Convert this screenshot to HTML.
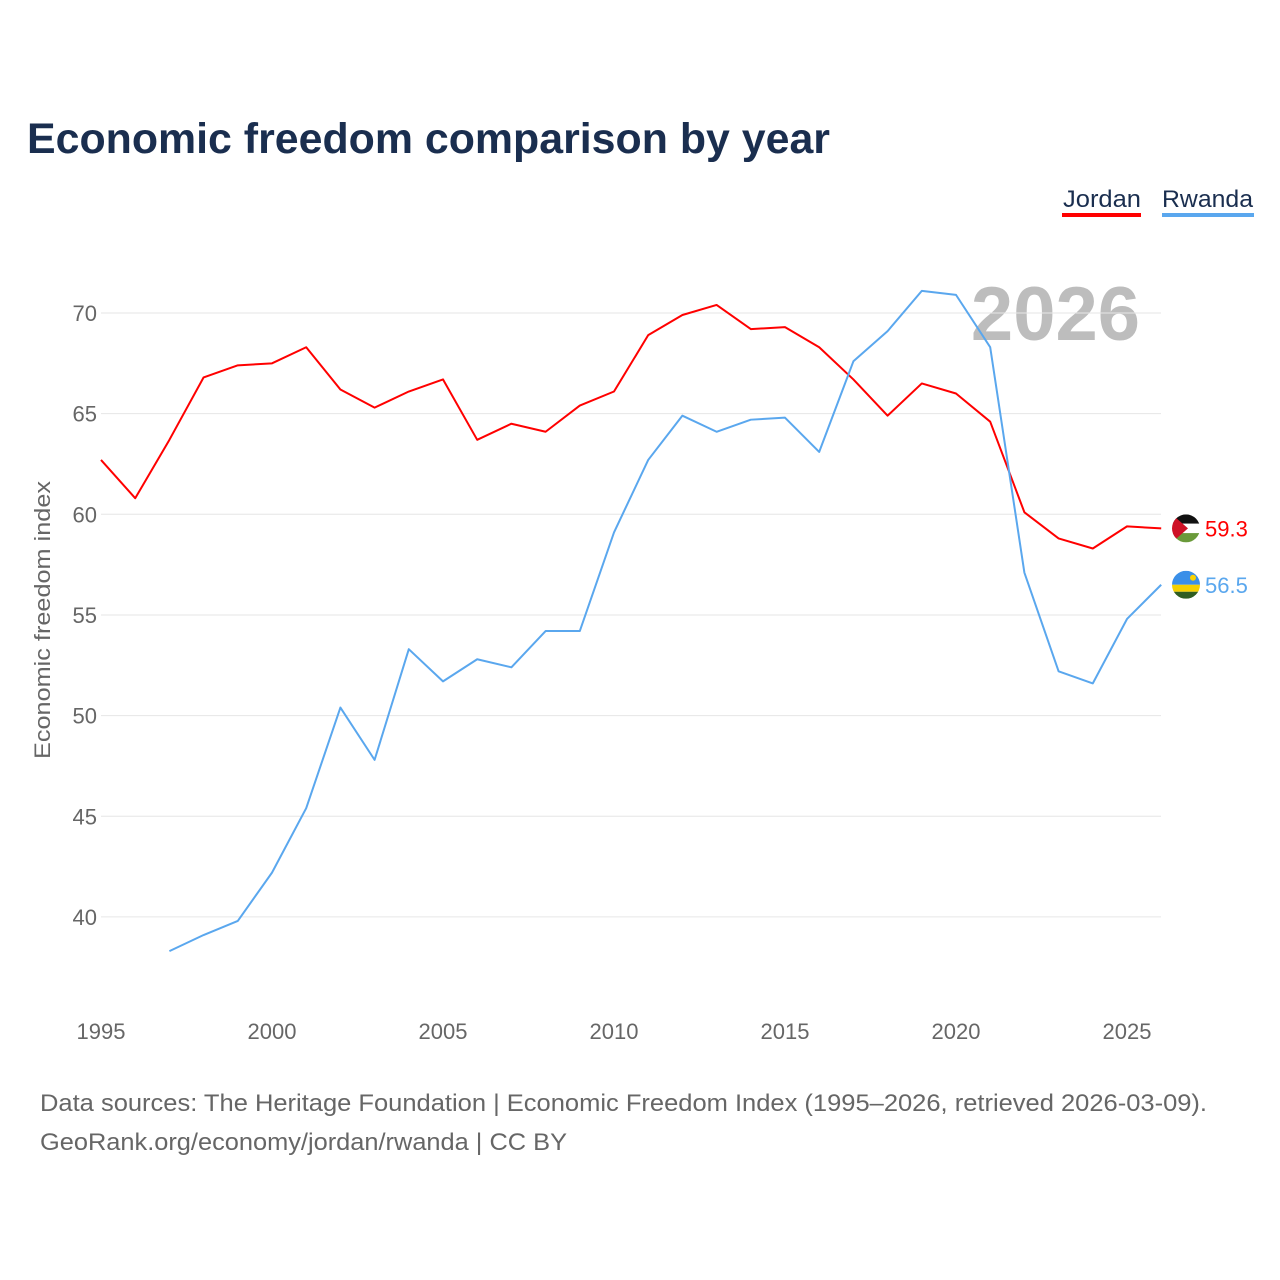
<!DOCTYPE html>
<html><head><meta charset="utf-8"><style>
body{margin:0;background:#fff;font-family:"Liberation Sans",sans-serif;}
#wrap{position:relative;width:1280px;height:1280px;overflow:hidden;}
</style></head><body>
<div id="wrap">
<svg id="chart" width="1280" height="1280">
<defs>
<clipPath id="cj"><circle cx="1186" cy="0" r="14"/></clipPath>
</defs>
<text x="27" y="153" font-size="43" font-weight="bold" fill="#1a2e4f" textLength="803" lengthAdjust="spacingAndGlyphs">Economic freedom comparison by year</text>
<g><text x="1063" y="207" font-size="24" fill="#1a2e4f" textLength="78" lengthAdjust="spacingAndGlyphs">Jordan</text><rect x="1062" y="213" width="79" height="4" fill="#ff0000"/></g>
<g><text x="1162" y="207" font-size="24" fill="#1a2e4f" textLength="91" lengthAdjust="spacingAndGlyphs">Rwanda</text><rect x="1162" y="213" width="92" height="4" fill="#5aa7ee"/></g>
<text x="1140" y="340" font-size="76" font-weight="bold" fill="#bdbdbd" text-anchor="end">2026</text>
<text transform="translate(50,620) rotate(-90)" font-size="22" fill="#666" text-anchor="middle" textLength="278" lengthAdjust="spacingAndGlyphs">Economic freedom index</text>
<g id="grid"></g><g id="lines"></g>
<text x="40" y="1111" font-size="24" fill="#666" textLength="1167" lengthAdjust="spacingAndGlyphs">Data sources: The Heritage Foundation | Economic Freedom Index (1995–2026, retrieved 2026-03-09).</text>
<text x="40" y="1150" font-size="24" fill="#666" textLength="527" lengthAdjust="spacingAndGlyphs">GeoRank.org/economy/jordan/rwanda | CC BY</text>
</svg></div>
<script>
const years=[1995,1996,1997,1998,1999,2000,2001,2002,2003,2004,2005,2006,2007,2008,2009,2010,2011,2012,2013,2014,2015,2016,2017,2018,2019,2020,2021,2022,2023,2024,2025,2026];
const jordan=[62.7,60.8,63.7,66.8,67.4,67.5,68.3,66.2,65.3,66.1,66.7,63.7,64.5,64.1,65.4,66.1,68.9,69.9,70.4,69.2,69.3,68.3,66.7,64.9,66.5,66.0,64.6,60.1,58.8,58.3,59.4,59.3];
const rwanda=[null,null,38.3,39.1,39.8,42.2,45.4,50.4,47.8,53.3,51.7,52.8,52.4,54.2,54.2,59.1,62.7,64.9,64.1,64.7,64.8,63.1,67.6,69.1,71.1,70.9,68.3,57.1,52.2,51.6,54.8,56.5];
const yTicks=[40,45,50,55,60,65,70];
const xTicks=[1995,2000,2005,2010,2015,2020,2025];
const X=y=>101+(y-1995)*34.2, Y=v=>313+(70-v)*20.13;
const NS="http://www.w3.org/2000/svg";
const g=document.getElementById('grid'), L=document.getElementById('lines'), defs=document.querySelector('defs');
function mk(tag,at,p){const e=document.createElementNS(NS,tag);for(const k in at)e.setAttribute(k,at[k]);p.appendChild(e);return e;}
yTicks.forEach(t=>{
 const l=mk('line',{x1:101,x2:1161,y1:Y(t),y2:Y(t),stroke:'#e6e6e6','stroke-width':1},g);
 
 
 const tx=mk('text',{x:97,y:Y(t)+8,'font-size':22,fill:'#666','text-anchor':'end'},g);tx.textContent=t;
 
 
});
xTicks.forEach(t=>{
 const tx=mk('text',{x:X(t),y:1039,'font-size':22,fill:'#666','text-anchor':'middle'},g);tx.textContent=t;
 
 
});
function series(vals,col,name,stripes,tri){
 let d='';vals.forEach((v,i)=>{if(v==null)return;d+=(d?'L':'M')+X(years[i])+','+Y(v);});
 const p=mk('path',{d:d,fill:'none',stroke:col,'stroke-width':2,'stroke-linejoin':'round'},L);
 
 
 const last=vals[vals.length-1],cy=Y(last);
 const cp=mk('clipPath',{id:'c'+name},defs);mk('circle',{cx:1186,cy:cy,r:14},cp);
 const fg=mk('g',{'clip-path':'url(#c'+name+')'},L);
 
 
 let yy=cy-14;stripes.forEach(s=>{mk('rect',{x:1172,y:yy,width:28,height:s[1],fill:s[0]},fg);yy+=s[1];});
 if(tri) mk('polygon',{points:`1172,${cy-14} 1188,${cy} 1172,${cy+14}`,fill:'#ce1126'},fg);
 if(name==='rwanda') mk('circle',{cx:1193,cy:cy-7,r:3,fill:'#fad201'},fg);
 const t=mk('text',{x:1205,y:cy+8,'font-size':22,fill:col},L);t.textContent=last.toFixed(1);
 
 
}
series(jordan,'#ff0000','jordan',[['#111',9.3],['#fff',9.4],['#6a9a3a',9.3]],true);
series(rwanda,'#5aa7ee','rwanda',[['#3a8fe8',14],['#f5d000',7],['#2f5d22',7]],false);
</script>
</body></html>
